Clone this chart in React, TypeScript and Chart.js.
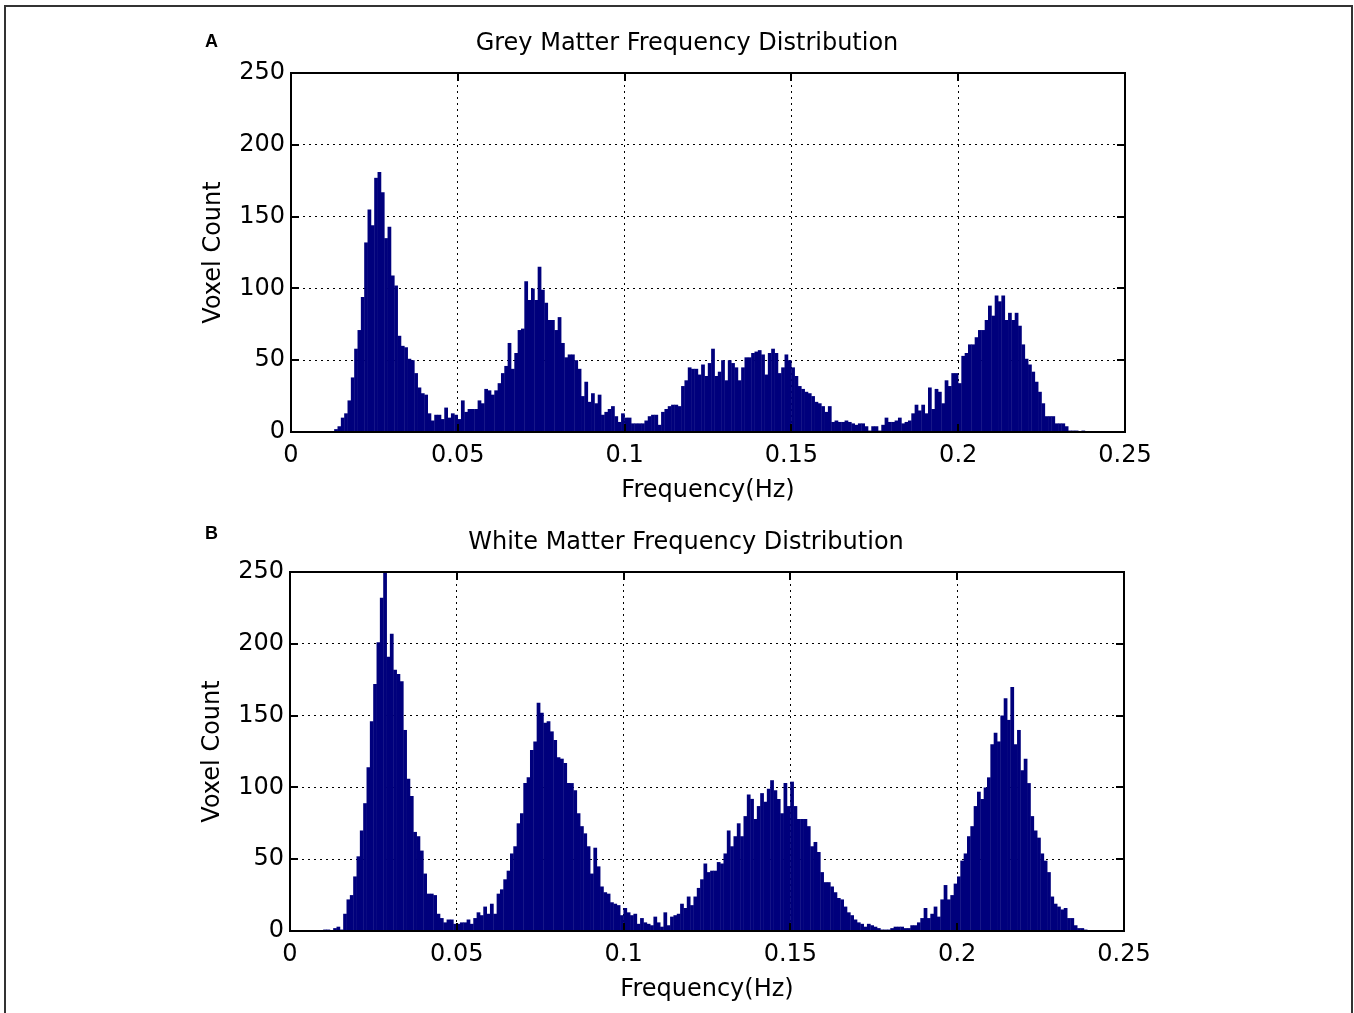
import React, { useEffect, useRef } from 'react';
import { Chart, registerables } from 'chart.js';

Chart.register(...registerables);

// ---------- data ----------
const binWidth = 0.001; // Hz, bin i covers [i*binWidth, (i+1)*binWidth)

const greyCounts = [
  0, 0, 0, 0, 0, 0, 0, 0, 0, 0,
  0, 0, 0, 2, 4, 10, 13, 22, 38, 58,
  71, 94, 132, 155, 144, 177, 181, 167, 135, 143,
  109, 102, 67, 60, 59, 51, 50, 41, 31, 27,
  26, 13, 8, 12, 12, 9, 17, 10, 13, 12,
  9, 22, 14, 16, 16, 16, 22, 20, 30, 29,
  26, 29, 34, 41, 46, 62, 44, 55, 71, 72,
  105, 92, 100, 92, 115, 99, 90, 78, 78, 71,
  80, 62, 52, 54, 54, 50, 44, 25, 35, 21,
  27, 20, 26, 12, 14, 16, 18, 11, 7, 13,
  10, 10, 6, 6, 6, 6, 8, 11, 12, 12,
  5, 14, 16, 18, 19, 19, 18, 32, 36, 45,
  44, 44, 40, 47, 39, 48, 58, 39, 42, 50,
  36, 50, 48, 45, 36, 45, 52, 52, 55, 56,
  57, 54, 40, 55, 58, 55, 41, 45, 54, 50,
  45, 39, 32, 30, 28, 27, 25, 21, 20, 18,
  14, 18, 7, 8, 7, 7, 8, 7, 6, 5,
  6, 6, 4, 1, 4, 4, 1, 5, 10, 7,
  7, 8, 10, 6, 7, 8, 13, 19, 15, 19,
  13, 31, 16, 30, 28, 20, 36, 32, 41, 41,
  34, 53, 55, 61, 61, 66, 71, 71, 78, 88,
  81, 95, 91, 95, 78, 83, 78, 83, 74, 61,
  51, 47, 42, 35, 28, 20, 11, 11, 11, 6,
  6, 6, 4, 1, 1, 1, 0, 1, 0, 0,
  0, 0, 0, 0, 0, 0, 0, 0, 0, 0,
];

const whiteCounts = [
  0, 0, 0, 0, 0, 0, 0, 0, 0, 0,
  1, 1, 0, 2, 3, 1, 12, 22, 25, 38,
  52, 70, 89, 114, 146, 172, 201, 232, 250, 191,
  207, 182, 179, 174, 140, 106, 94, 69, 66, 56,
  40, 26, 26, 25, 12, 9, 6, 8, 8, 5,
  5, 6, 6, 8, 5, 9, 13, 11, 17, 12,
  19, 12, 26, 29, 36, 42, 54, 59, 75, 82,
  103, 107, 126, 132, 159, 152, 145, 146, 139, 133,
  121, 120, 117, 103, 103, 98, 82, 73, 68, 59,
  40, 58, 45, 31, 27, 26, 20, 19, 18, 11,
  16, 13, 11, 12, 5, 9, 6, 5, 4, 10,
  6, 3, 13, 4, 10, 11, 12, 19, 16, 24,
  18, 24, 30, 36, 47, 41, 42, 42, 48, 47,
  54, 70, 59, 66, 75, 66, 80, 95, 92, 78,
  87, 96, 90, 99, 105, 98, 92, 82, 103, 87,
  104, 87, 78, 78, 78, 73, 59, 62, 55, 41,
  34, 34, 31, 27, 23, 22, 17, 13, 11, 8,
  6, 5, 3, 5, 4, 3, 2, 1, 1, 1,
  2, 3, 3, 3, 2, 2, 4, 4, 6, 9,
  16, 9, 12, 17, 10, 22, 32, 22, 25, 33,
  38, 49, 54, 66, 73, 87, 97, 92, 100, 107,
  130, 138, 132, 150, 162, 147, 170, 130, 140, 112,
  120, 103, 80, 70, 65, 54, 49, 41, 24, 19,
  17, 15, 16, 9, 9, 4, 2, 2, 1, 0,
  0, 0, 0, 0, 0, 0, 0, 0, 0, 0,
];

const xTicks = [0, 0.05, 0.1, 0.15, 0.2, 0.25];
const xTickLabels = ['0', '0.05', '0.1', '0.15', '0.2', '0.25'];
const yTicks = [0, 50, 100, 150, 200, 250];
const yTickLabels = ['0', '50', '100', '150', '200', '250'];

const greyTitle = 'Grey Matter Frequency Distribution';
const whiteTitle = 'White Matter Frequency Distribution';
const panelLabelA = 'A';
const panelLabelB = 'B';
const xAxisTitle = 'Frequency(Hz)';
const yAxisTitle = 'Voxel Count';

// ---------- style ----------
const FONT = '"DejaVu Sans", "Liberation Sans", Arial, sans-serif';
const BAR_COLOR = '#00007c';

const framePlugin = {
  id: 'matlabFrame',
  afterDatasetsDraw(chart: any) {
    const { ctx, chartArea: a, scales } = chart;
    const tl = 8;
    ctx.save();
    ctx.strokeStyle = '#000';
    ctx.lineWidth = 2;
    ctx.beginPath();
    scales.x.ticks.forEach((t: any) => {
      const px = Math.round(scales.x.getPixelForValue(t.value));
      ctx.moveTo(px, a.bottom);
      ctx.lineTo(px, a.bottom - tl);
      ctx.moveTo(px, a.top);
      ctx.lineTo(px, a.top + tl);
    });
    scales.y.ticks.forEach((t: any) => {
      const py = Math.round(scales.y.getPixelForValue(t.value));
      ctx.moveTo(a.left, py);
      ctx.lineTo(a.left + tl, py);
      ctx.moveTo(a.right, py);
      ctx.lineTo(a.right - tl, py);
    });
    ctx.stroke();
    ctx.strokeRect(a.left, a.top, a.right - a.left, a.bottom - a.top);
    ctx.restore();
  },
};

function HistPanel({ counts, title, left, top }: { counts: number[]; title: string; left: number; top: number }) {
  const ref = useRef<HTMLCanvasElement | null>(null);
  useEffect(() => {
    if (!ref.current) return;
    const data = counts.map((c, i) => ({ x: (i + 0.5) * binWidth, y: c }));
    const chart = new Chart(ref.current, {
      type: 'bar',
      data: {
        datasets: [
          {
            data,
            backgroundColor: BAR_COLOR,
            borderWidth: 0,
            barPercentage: 1.12,
            categoryPercentage: 1,
          } as any,
        ],
      },
      plugins: [framePlugin],
      options: {
        responsive: false,
        animation: false,
        devicePixelRatio: 1,
        layout: { padding: 0 },
        plugins: {
          legend: { display: false },
          tooltip: { enabled: false },
          title: {
            display: true,
            text: title,
            color: '#000',
            font: { family: FONT, size: 24, weight: 'normal' },
            padding: { top: 29.6, bottom: 14.6 },
          },
        },
        scales: {
          x: {
            type: 'linear',
            min: 0,
            max: 0.25,
            offset: false,
            afterBuildTicks: (s: any) => {
              s.ticks = xTicks.map((v) => ({ value: v }));
            },
            afterFit: (s: any) => {
              s.height = 80;
            },
            grid: {
              display: true,
              offset: false,
              drawTicks: false,
              color: '#000',
              lineWidth: 1,
            },
            border: { display: false, dash: [2, 4] },
            ticks: {
              color: '#000',
              font: { family: FONT, size: 24 },
              padding: 9,
              autoSkip: false,
              maxRotation: 0,
              callback: (_v: any, i: number) => xTickLabels[i],
            },
            title: {
              display: true,
              text: xAxisTitle,
              color: '#000',
              font: { family: FONT, size: 24 },
              padding: { top: 0, bottom: 6.6 },
            },
          },
          y: {
            type: 'linear',
            position: 'left',
            min: 0,
            max: 250,
            afterBuildTicks: (s: any) => {
              s.ticks = yTicks.map((v) => ({ value: v }));
            },
            afterFit: (s: any) => {
              s.width = 111;
            },
            grid: {
              display: true,
              drawTicks: false,
              color: '#000',
              lineWidth: 1,
            },
            border: { display: false, dash: [2, 4] },
            ticks: {
              color: '#000',
              font: { family: FONT, size: 24 },
              padding: 6,
              callback: (_v: any, i: number) => yTickLabels[i],
            },
            title: {
              display: true,
              text: yAxisTitle,
              color: '#000',
              font: { family: FONT, size: 24 },
              padding: { top: 19.6, bottom: 0 },
            },
          },
          spacer: {
            type: 'linear',
            position: 'right',
            display: true,
            grid: { display: false, drawTicks: false },
            border: { display: false },
            ticks: { display: false },
            afterFit: (s: any) => {
              s.width = 69;
            },
          },
        },
      } as any,
    });
    return () => chart.destroy();
  }, [counts, title]);
  return (
    <canvas
      ref={ref}
      width={1014}
      height={512}
      style={{ position: 'absolute', left, top, width: 1014, height: 512 }}
    />
  );
}

const labelStyle: React.CSSProperties = {
  position: 'absolute',
  fontFamily: '"Liberation Sans", Arial, sans-serif',
  fontWeight: 700,
  fontSize: '18px',
  lineHeight: '18px',
  color: '#000',
  margin: 0,
};

export default function App() {
  return (
    <div
      style={{
        position: 'absolute',
        left: 0,
        top: 0,
        width: 1354,
        height: 1013,
        background: '#fff',
        overflow: 'hidden',
      }}
    >
      <div
        style={{
          position: 'absolute',
          left: 4,
          top: 5,
          width: 1349,
          height: 1030,
          boxSizing: 'border-box',
          borderTop: '2px solid #333',
          borderLeft: '2px solid #333',
          borderRight: '2px solid #333',
        }}
      />
      <HistPanel counts={greyCounts} title={greyTitle} left={180} top={0} />
      <HistPanel counts={whiteCounts} title={whiteTitle} left={179} top={499} />
      <div style={{ ...labelStyle, left: 205, top: 32 }}>{panelLabelA}</div>
      <div style={{ ...labelStyle, left: 205, top: 524 }}>{panelLabelB}</div>
    </div>
  );
}
